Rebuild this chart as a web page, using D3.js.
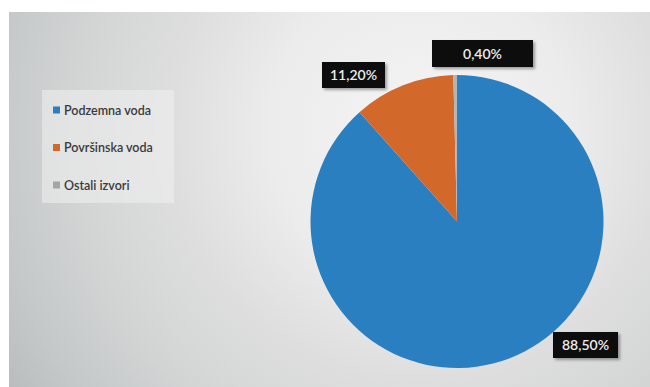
<!DOCTYPE html>
<html><head><meta charset="utf-8">
<script src="https://cdn.jsdelivr.net/npm/d3@7"></script>
<style>body{margin:0;background:#fff;}svg{display:block;}</style>
</head><body><svg id="c" width="650" height="387"></svg>
<script>
const categories = ["Podzemna voda", "Površinska voda", "Ostali izvori"];
const values = [88.5, 11.2, 0.4];
const labels = ["88,50%", "11,20%", "0,40%"];
const colors = ["#2a7fc1", "#d2692b", "#b4b4b4"];

const svg = d3.select("#c");
const defs = svg.append("defs");
const grad = defs.append("radialGradient").attr("id","bg").attr("gradientUnits","userSpaceOnUse")
  .attr("cx",420).attr("cy",130).attr("r",500);
[[0,"#f4f4f4"],[0.3,"#ececec"],[0.5,"#dedede"],[0.7,"#d2d4d4"],[0.86,"#c4c8c8"],[1,"#b6baba"]]
  .forEach(([o,c])=>grad.append("stop").attr("offset",o).attr("stop-color",c));
const f = defs.append("filter").attr("id","sh").attr("x","-20%").attr("y","-30%").attr("width","140%").attr("height","160%");
f.append("feDropShadow").attr("dx",2).attr("dy",2).attr("stdDeviation",1.5).attr("flood-color","#000").attr("flood-opacity",0.35);

svg.append("rect").attr("x",9).attr("y",12).attr("width",641).attr("height",375).attr("fill","url(#bg)");

// legend panel
svg.append("rect").attr("x",42).attr("y",90).attr("width",132).attr("height",113).attr("fill","#f0f0f0").attr("opacity",0.55);
const leg = svg.append("g");
const rowY = d3.scalePoint().domain(categories).range([110,185]);
categories.forEach((c,i)=>{
  leg.append("rect").attr("x",53).attr("y",rowY(c)-3.5).attr("width",7).attr("height",7).attr("fill",i===2?"#a5a5a5":colors[i]);
  leg.append("text").attr("x",64).attr("y",rowY(c)+4.5).text(c)
    .attr("font-family","Lato, 'Open Sans', sans-serif").attr("font-size",12.5).attr("font-weight",600).attr("fill","#3a3a3a");
});

// pie
const cx = 457, cy = 221.5, r = 146.5;
const pie = d3.pie().sort(null).value(d=>d)(values);
const arc = d3.arc().innerRadius(0).outerRadius(r);
const g = svg.append("g").attr("transform",`translate(${cx},${cy})`);
g.selectAll("path").data(pie).join("path").attr("d",arc).attr("fill",(d,i)=>colors[i]);

// data labels
const labBox = [[553,332,65,26],[322,62,63,26],[432,40,101,27]];
labels.forEach((t,i)=>{
  const [x,y,w,h] = labBox[i];
  const lg = svg.append("g");
  lg.append("rect").attr("x",x).attr("y",y).attr("width",w).attr("height",h).attr("fill","#0a0a0a").attr("filter","url(#sh)");
  lg.append("text").attr("x",x+w/2).attr("y",y+h/2+5).attr("text-anchor","middle").text(t)
    .attr("font-family","Lato, 'Open Sans', sans-serif").attr("font-size",14).attr("font-weight",600).attr("fill","#ededed");
});
</script></body></html>
